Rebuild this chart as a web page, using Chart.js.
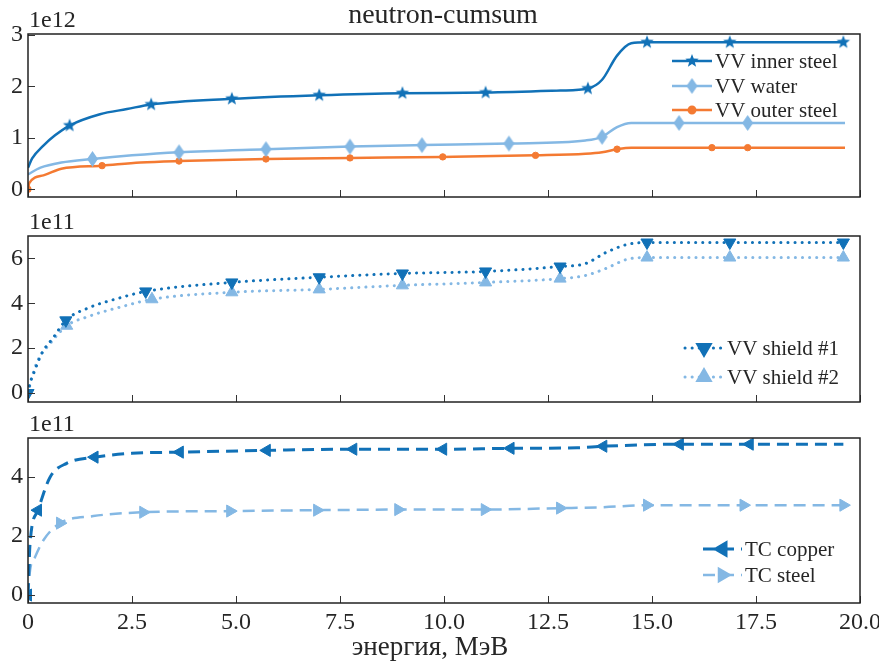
<!DOCTYPE html>
<html>
<head>
<meta charset="utf-8">
<script src="https://cdn.jsdelivr.net/npm/chart.js@4.4.0/dist/chart.umd.min.js"></script>
<style>
body { margin: 0; background: #fff; width: 879px; height: 661px; overflow: hidden; position: relative; }
canvas { position: absolute; left: 0; }
</style>
</head>
<body>
<canvas id="top" width="879" height="205" style="top:0"></canvas>
<canvas id="mid" width="879" height="205" style="top:205px"></canvas>
<canvas id="bot" width="879" height="251" style="top:410px"></canvas>
<script>
// x axis, energy in MeV
const xTickValues = [0, 2.5, 5, 7.5, 10, 12.5, 15, 17.5, 20];
const xTickLabels = ['0', '2.5', '5.0', '7.5', '10.0', '12.5', '15.0', '17.5', '20.0'];

// top panel, units of 1e12
const topTicks = [0, 1, 2, 3];
const innerSteelE = [0, 0.1, 0.37, 0.65, 1.0, 1.73, 2.38, 2.96, 4.9, 7.0, 9.0, 11.0, 12.8, 13.46, 13.8, 14.16, 14.5, 14.88, 16.87, 19.6];
const innerSteelV = [0.42, 0.6, 0.85, 1.05, 1.24, 1.46, 1.56, 1.65, 1.76, 1.83, 1.87, 1.88, 1.92, 1.96, 2.13, 2.6, 2.84, 2.86, 2.86, 2.86];
const innerSteelMarks = [1.0, 2.96, 4.9, 7.0, 9.0, 11.0, 13.46, 14.88, 16.87, 19.6];
const waterE = [0, 0.3, 0.8, 1.55, 2.5, 3.63, 5.72, 7.74, 9.47, 11.56, 13.4, 13.8, 14.16, 14.5, 15.65, 17.3, 19.64];
const waterV = [0.29, 0.42, 0.52, 0.59, 0.66, 0.72, 0.78, 0.83, 0.86, 0.89, 0.95, 1.02, 1.21, 1.29, 1.29, 1.29, 1.29];
const waterMarks = [1.55, 3.63, 5.72, 7.74, 9.47, 11.56, 13.8, 15.65, 17.3];
const outerSteelE = [0, 0.03, 0.37, 0.8, 1.78, 2.7, 3.63, 5.72, 7.74, 9.97, 12.2, 13.4, 13.8, 14.16, 14.5, 16.44, 17.3, 19.64];
const outerSteelV = [0, 0.12, 0.27, 0.4, 0.46, 0.52, 0.55, 0.59, 0.61, 0.63, 0.66, 0.69, 0.72, 0.78, 0.81, 0.81, 0.81, 0.81];
const outerSteelMarks = [0, 1.78, 3.63, 5.72, 7.74, 9.97, 12.2, 14.16, 16.44, 17.3];

// middle panel, units of 1e11
const midTicks = [0, 2, 4, 6];
const shield1E = [0, 0.05, 0.12, 0.34, 0.6, 0.91, 1.49, 2.13, 2.83, 4.9, 7.0, 9.0, 11.0, 12.79, 13.4, 13.9, 14.4, 14.88, 16.87, 19.6];
const shield1V = [0, 0.45, 0.8, 1.8, 2.45, 3.24, 3.82, 4.2, 4.53, 4.93, 5.16, 5.33, 5.42, 5.64, 5.77, 6.27, 6.62, 6.71, 6.71, 6.71];
const shield1Marks = [0, 0.91, 2.83, 4.9, 7.0, 9.0, 11.0, 12.79, 14.88, 16.87, 19.6];
const shield2E = [0, 0.09, 0.22, 0.53, 0.93, 1.4, 2.38, 2.98, 4.9, 7.0, 9.0, 11.0, 12.79, 13.4, 13.9, 14.4, 14.88, 16.87, 19.6];
const shield2V = [0, 0.67, 1.4, 2.2, 3.0, 3.38, 3.91, 4.18, 4.49, 4.62, 4.8, 4.93, 5.1, 5.24, 5.56, 5.96, 6.04, 6.04, 6.04];
const shield2Marks = [0.93, 2.98, 4.9, 7.0, 9.0, 11.0, 12.79, 14.88, 16.87, 19.6];

// bottom panel, units of 1e11
const botTicks = [0, 2, 4];
const copperE = [0, 0.05, 0.24, 0.53, 0.93, 1.6, 2.5, 3.65, 5.74, 7.82, 9.98, 11.6, 13.2, 13.83, 15.67, 17.35, 19.6];
const copperV = [0, 1.76, 2.88, 4.0, 4.47, 4.68, 4.81, 4.85, 4.91, 4.95, 4.95, 4.98, 5.0, 5.05, 5.12, 5.12, 5.12];
const copperMarks = [0, 0.24, 1.6, 3.65, 5.74, 7.82, 9.98, 11.6, 13.83, 15.67, 17.35];
const tcSteelE = [0, 0.05, 0.17, 0.37, 0.77, 1.57, 2.77, 4.86, 6.95, 8.9, 10.98, 12.79, 13.8, 14.88, 17.2, 19.6];
const tcSteelV = [0, 0.85, 1.29, 1.86, 2.44, 2.68, 2.81, 2.85, 2.88, 2.9, 2.9, 2.95, 2.98, 3.05, 3.05, 3.05];
const tcSteelMarks = [0.77, 2.77, 4.86, 6.95, 8.9, 10.98, 12.79, 14.88, 17.2, 19.6];

const DARK = '#1171b7';
const LIGHT = '#84b8e4';
const ORANGE = '#f47a32';
const TEXT = '#262626';
const SERIF = "'Liberation Serif', 'Times New Roman', serif";

function starImage(color, R) {
    const c = document.createElement('canvas');
    c.width = c.height = 2 * R + 2;
    const g = c.getContext('2d');
    g.fillStyle = color;
    g.beginPath();
    for (let i = 0; i < 10; i++) {
        const r = i % 2 ? R * 0.42 : R;
        const a = -Math.PI / 2 + i * Math.PI / 5;
        g.lineTo(R + 1 + r * Math.cos(a), R + 1 + r * Math.sin(a));
    }
    g.closePath();
    g.fill();
    return c;
}

function diamondImage(color, w, h) {
    const c = document.createElement('canvas');
    c.width = w + 2;
    c.height = h + 2;
    const g = c.getContext('2d');
    g.fillStyle = color;
    g.beginPath();
    g.moveTo(w / 2 + 1, 1);
    g.lineTo(w + 1, h / 2 + 1);
    g.lineTo(w / 2 + 1, h + 1);
    g.lineTo(1, h / 2 + 1);
    g.closePath();
    g.fill();
    return c;
}

function series(label, E, V, marks, style) {
    return Object.assign({
        label: label,
        data: E.map((e, i) => ({x: e, y: V[i]})),
        borderWidth: 2.5,
        pointBorderWidth: 1,
        pointRotation: 0,
        clip: 0,
        pointRadius: ctx => marks.includes(ctx.raw.x) ? style.markerSize : 0,
        pointHoverRadius: 0,
        pointBackgroundColor: style.borderColor,
        pointBorderColor: style.borderColor
    }, style);
}

function decorPlugin(p) {
    return {
        id: 'decor',
        afterDraw(chart) {
            const {ctx, chartArea: a, scales: {x, y}} = chart;
            ctx.save();
            // inward ticks
            ctx.strokeStyle = '#333';
            ctx.lineWidth = 1;
            ctx.beginPath();
            x.ticks.forEach(t => {
                const px = Math.round(x.getPixelForValue(t.value)) + 0.5;
                ctx.moveTo(px, a.bottom);
                ctx.lineTo(px, a.bottom - 7);
            });
            y.ticks.forEach(t => {
                const py = Math.round(y.getPixelForValue(t.value)) + 0.5;
                ctx.moveTo(a.left, py);
                ctx.lineTo(a.left + 7, py);
            });
            ctx.stroke();
            // frame
            ctx.strokeStyle = '#222';
            ctx.lineWidth = 1.5;
            ctx.strokeRect(a.left, a.top, a.right - a.left, a.bottom - a.top);

            ctx.fillStyle = TEXT;
            ctx.textBaseline = 'alphabetic';
            ctx.textAlign = 'left';
            ctx.font = '24px ' + SERIF;
            ctx.fillText(p.offset, a.left + 1, a.top - 7);
            if (p.title) {
                ctx.textAlign = 'center';
                ctx.font = '28px ' + SERIF;
                ctx.fillText(p.title, 443, 23);
            }
            if (p.xTitle) {
                ctx.textAlign = 'center';
                ctx.textBaseline = 'middle';
                ctx.font = '27px ' + SERIF;
                ctx.fillText(p.xTitle, 430, a.bottom + 45);
            }

            // legend
            const lg = p.legend;
            ctx.font = '21px ' + SERIF;
            ctx.textAlign = 'left';
            ctx.textBaseline = 'middle';
            chart.data.datasets.forEach((ds, i) => {
                const ly = lg.rows[i];
                ctx.save();
                ctx.strokeStyle = ds.borderColor;
                ctx.lineWidth = ds.borderWidth;
                ctx.lineCap = ds.borderCapStyle || 'butt';
                ctx.setLineDash(ds.borderDash || []);
                ctx.beginPath();
                ctx.moveTo(lg.x0, ly);
                ctx.lineTo(lg.x1, ly);
                ctx.stroke();
                ctx.setLineDash([]);
                ctx.fillStyle = ds.borderColor;
                ctx.strokeStyle = ds.borderColor;
                Chart.helpers.drawPoint(ctx, {
                    pointStyle: ds.pointStyle,
                    radius: ds.markerSize,
                    rotation: ds.pointRotation || 0,
                    borderWidth: 1
                }, (lg.x0 + lg.x1) / 2, ly);
                ctx.restore();
                ctx.fillStyle = TEXT;
                ctx.fillText(ds.label, lg.tx, ly + 1);
            });
            ctx.restore();
        }
    };
}

function makePanel(id, p) {
    const tickFont = {family: SERIF, size: 24};
    new Chart(document.getElementById(id), {
        type: 'line',
        data: {datasets: p.datasets},
        options: {
            responsive: false,
            animation: false,
            devicePixelRatio: 1,
            layout: {padding: {top: p.padTop, right: 19, left: 0, bottom: 0}},
            plugins: {legend: {display: false}, tooltip: {enabled: false}},
            elements: {line: {cubicInterpolationMode: 'monotone'}},
            scales: {
                x: {
                    type: 'linear',
                    min: 0,
                    max: 20,
                    grid: {display: false, drawTicks: false},
                    border: {display: false},
                    ticks: {
                        display: p.showX,
                        font: tickFont,
                        color: TEXT,
                        padding: 5,
                        maxRotation: 0,
                        autoSkip: false,
                        callback: (v, i) => xTickLabels[i]
                    },
                    afterBuildTicks: s => { s.ticks = xTickValues.map(v => ({value: v})); },
                    afterFit: s => { s.height = p.xHeight; s.paddingLeft = 0; s.paddingRight = 0; }
                },
                y: {
                    min: p.yMin,
                    max: p.yMax,
                    grid: {display: false, drawTicks: false},
                    border: {display: false},
                    ticks: {font: tickFont, color: TEXT, padding: 5},
                    afterBuildTicks: s => { s.ticks = p.yTicks.map(v => ({value: v})); },
                    afterFit: s => { s.width = 28; s.paddingTop = 0; s.paddingBottom = 0; }
                }
            }
        },
        plugins: [decorPlugin(p)]
    });
}

makePanel('top', {
    padTop: 34, xHeight: 5, showX: false,
    yMin: -0.15, yMax: 3.02, yTicks: topTicks,
    offset: '1e12', title: 'neutron-cumsum',
    legend: {x0: 672, x1: 712, tx: 715, rows: [61, 86, 110]},
    datasets: [
        series('VV inner steel', innerSteelE, innerSteelV, innerSteelMarks,
            {borderColor: DARK, pointStyle: starImage(DARK, 7), markerSize: 7}),
        series('VV water', waterE, waterV, waterMarks,
            {borderColor: LIGHT, pointStyle: diamondImage(LIGHT, 11, 16), markerSize: 7}),
        series('VV outer steel', outerSteelE, outerSteelV, outerSteelMarks,
            {borderColor: ORANGE, pointStyle: 'circle', markerSize: 3.2})
    ]
});

makePanel('mid', {
    padTop: 31, xHeight: 8, showX: false,
    yMin: -0.4, yMax: 7.0, yTicks: midTicks,
    offset: '1e11',
    legend: {x0: 685, x1: 723, tx: 727, rows: [348, 377].map(v => v - 205)},
    datasets: [
        series('VV shield #1', shield1E, shield1V, shield1Marks,
            {borderColor: DARK, borderWidth: 3, borderDash: [0.1, 7], borderCapStyle: 'round',
             pointStyle: 'triangle', pointRotation: 180, markerSize: 7}),
        series('VV shield #2', shield2E, shield2V, shield2Marks,
            {borderColor: LIGHT, borderWidth: 3, borderDash: [0.1, 7], borderCapStyle: 'round',
             pointStyle: 'triangle', markerSize: 7})
    ]
});

makePanel('bot', {
    padTop: 28, xHeight: 58, showX: true,
    yMin: -0.27, yMax: 5.33, yTicks: botTicks,
    offset: '1e11', xTitle: 'энергия, МэВ',
    legend: {x0: 703, x1: 742, tx: 745, rows: [549, 575].map(v => v - 410)},
    datasets: [
        series('TC copper', copperE, copperV, copperMarks,
            {borderColor: DARK, borderWidth: 3, borderDash: [12, 7],
             pointStyle: 'triangle', pointRotation: 270, markerSize: 7}),
        series('TC steel', tcSteelE, tcSteelV, tcSteelMarks,
            {borderColor: LIGHT, borderWidth: 2.5, borderDash: [12, 7],
             pointStyle: 'triangle', pointRotation: 90, markerSize: 7})
    ]
});
</script>
</body>
</html>
